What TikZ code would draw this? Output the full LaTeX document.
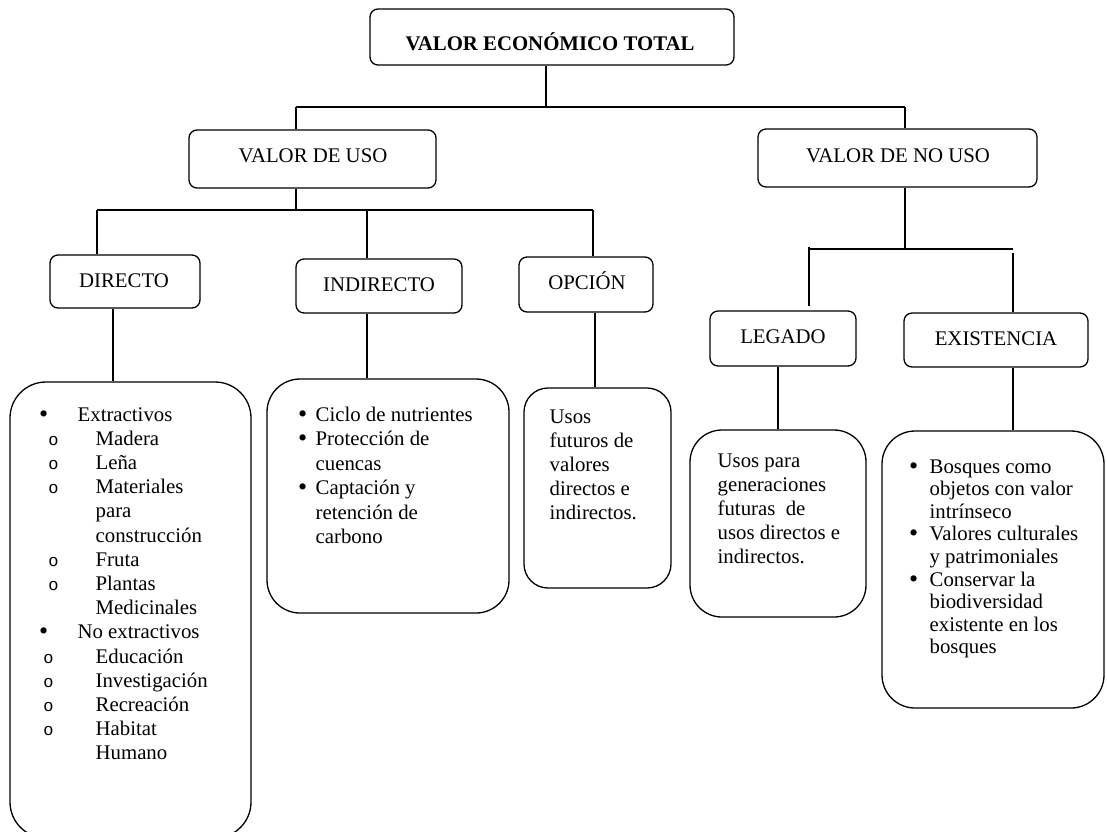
\documentclass[tikz,border=0pt]{standalone}
\usepackage{fontspec}
\setmainfont{Liberation Serif}
\newfontfamily\cour{Liberation Mono}
\newcommand\mybul{\raisebox{-1pt}{\scalebox{1.25}{\textbullet}}}
\newcommand\myo{{\cour\fontsize{17}{17}\selectfont o}}
\begin{document}
\begin{tikzpicture}[x=1pt,y=-1pt,line width=1.3pt,
  lbox/.style={draw,rounded corners=8pt,inner sep=0pt},
  tbox/.style={draw,rounded corners=#1,inner sep=0pt},
  lbl/.style={anchor=base,inner sep=0pt,font=\fontsize{20.8}{24.2}\selectfont},
  lst/.style={anchor=base west,inner sep=0pt,font=\fontsize{20.8}{#1}\selectfont}]
\fill[white] (0,0) rectangle (1107,831);
\useasboundingbox (0,0) rectangle (1107,831);
% label boxes
\node[lbox,minimum width=364pt,minimum height=56pt] (vet) at (552,37) {};
\node[lbox,minimum width=247pt,minimum height=58pt] (uso) at (312.5,159) {};
\node[lbox,minimum width=279pt,minimum height=58pt] (nouso) at (897.5,158) {};
\node[lbox,minimum width=150pt,minimum height=53pt] (dir) at (125,281.5) {};
\node[lbox,minimum width=166pt,minimum height=54pt] (ind) at (379,286) {};
\node[lbox,minimum width=134pt,minimum height=55pt] (opc) at (586,284.5) {};
\node[lbox,minimum width=146pt,minimum height=55pt] (leg) at (783,338.5) {};
\node[lbox,minimum width=184pt,minimum height=54pt] (exi) at (996,340) {};
% labels
\node[lbl,font=\fontsize{20.8}{24.2}\selectfont\bfseries] (vetT) at (550,50) {VALOR ECONÓMICO TOTAL};
\node[lbl] (usoT) at (313,162) {VALOR DE USO};
\node[lbl] (nousoT) at (898,162) {VALOR DE NO USO};
\node[lbl] (dirT) at (124,287) {DIRECTO};
\node[lbl] (indT) at (379,291) {INDIRECTO};
\node[lbl] (opcT) at (587,289) {OPCIÓN};
\node[lbl] (legT) at (783,343) {LEGADO};
\node[lbl] (exiT) at (996,345) {EXISTENCIA};
% text boxes
\node[tbox=36pt,minimum width=241pt,minimum height=456pt] (dirB) at (130.5,610) {};
\node[tbox=33pt,minimum width=242pt,minimum height=234pt] (indB) at (388,496) {};
\node[tbox=24pt,minimum width=147pt,minimum height=200pt] (opcB) at (597.5,488) {};
\node[tbox=32pt,minimum width=176pt,minimum height=187pt] (legB) at (778,523.5) {};
\node[tbox=33pt,minimum width=222pt,minimum height=277pt] (exiB) at (993,569.5) {};
% list texts
\node[lst=24.2pt] (dirL) at (39.4,421) {\begin{tabular}[t]{@{}l@{}}
\hspace*{-0.9pt}\makebox[38.5pt][l]{\mybul}Extractivos\\
\hspace*{8.4pt}\makebox[47.2pt][l]{\myo}Madera\\
\hspace*{8.4pt}\makebox[47.2pt][l]{\myo}Leña\\
\hspace*{8.4pt}\makebox[47.2pt][l]{\myo}Materiales\\
\hspace*{55.6pt}para\\
\hspace*{55.6pt}construcción\\
\hspace*{8.4pt}\makebox[47.2pt][l]{\myo}Fruta\\
\hspace*{8.4pt}\makebox[47.2pt][l]{\myo}Plantas\\
\hspace*{55.6pt}Medicinales\\
\hspace*{-0.9pt}\makebox[38.5pt][l]{\mybul}No extractivos\\
\hspace*{3.4pt}\makebox[52.2pt][l]{\myo}Educación\\
\hspace*{3.4pt}\makebox[52.2pt][l]{\myo}Investigación\\
\hspace*{3.4pt}\makebox[52.2pt][l]{\myo}Recreación\\
\hspace*{3.4pt}\makebox[52.2pt][l]{\myo}Habitat\\
\hspace*{55.6pt}Humano
\end{tabular}};
\node[lst=24.5pt] (indL) at (298.4,421) {\begin{tabular}[t]{@{}l@{}}
\hspace*{-0.9pt}\makebox[17.5pt][l]{\mybul}Ciclo de nutrientes\\
\hspace*{-0.9pt}\makebox[17.5pt][l]{\mybul}Protección de\\
\hspace*{16.6pt}cuencas\\
\hspace*{-0.9pt}\makebox[17.5pt][l]{\mybul}Captación y\\
\hspace*{16.6pt}retención de\\
\hspace*{16.6pt}carbono
\end{tabular}};
\node[lst=24pt] (opcL) at (549,423.5) {\begin{tabular}[t]{@{}l@{}}
Usos\\ futuros de\\ valores\\ directos e\\ indirectos.
\end{tabular}};
\node[lst=24.2pt] (legL) at (717,467) {\begin{tabular}[t]{@{}l@{}}
Usos para\\ generaciones\\ futuras\ \ de\\ usos directos e\\ indirectos.
\end{tabular}};
\node[lst=22.6pt] (exiL) at (909.4,473) {\begin{tabular}[t]{@{}l@{}}
\hspace*{-0.9pt}\makebox[20.5pt][l]{\mybul}Bosques como\\
\hspace*{19.6pt}objetos con valor\\
\hspace*{19.6pt}intrínseco\\
\hspace*{-0.9pt}\makebox[20.5pt][l]{\mybul}Valores culturales\\
\hspace*{19.6pt}y patrimoniales\\
\hspace*{-0.9pt}\makebox[20.5pt][l]{\mybul}Conservar la\\
\hspace*{19.6pt}biodiversidad\\
\hspace*{19.6pt}existente en los\\
\hspace*{19.6pt}bosques
\end{tabular}};
% connectors
\coordinate (a) at (546,107);
\coordinate (al) at (296,107);
\coordinate (ar) at (905,107);
\draw (vet.south -| a) -- (a);
\draw (al) -- (ar);
\draw (al) -- (uso.north -| al);
\draw (ar) -- (nouso.north -| ar);
\coordinate (b) at (296,210);
\coordinate (bl) at (97,210);
\coordinate (bm) at (367,210);
\coordinate (br) at (593,210);
\draw (uso.south -| b) -- (b);
\draw (bl) -- (br);
\draw (bl) -- (dir.north -| bl);
\draw (bm) -- (ind.north -| bm);
\draw (br) -- (opc.north -| br);
\draw ([xshift=-12pt]dir.south) -- ([xshift=-12pt]dir.south |- dirB.north);
\draw ([xshift=-12pt]ind.south) -- ([xshift=-12pt]ind.south |- indB.north);
\draw ([xshift=9pt]opc.south) -- ([xshift=9pt]opc.south |- opcB.north);
\coordinate (c) at (905,249);
\coordinate (cl) at (809,249);
\coordinate (cr) at (1013,249);
\draw (nouso.south -| c) -- (c);
\draw (cl) -- (cr);
\draw ([yshift=2pt]cl) -- ([yshift=4pt]cl |- leg.north);
\draw ([yshift=-4pt]cr) -- (cr |- exi.north);
\draw ([xshift=-5pt]leg.south) -- ([xshift=-5pt]leg.south |- legB.north);
\draw ([xshift=17pt]exi.south) -- ([xshift=17pt]exi.south |- exiB.north);
\end{tikzpicture}
\end{document}
